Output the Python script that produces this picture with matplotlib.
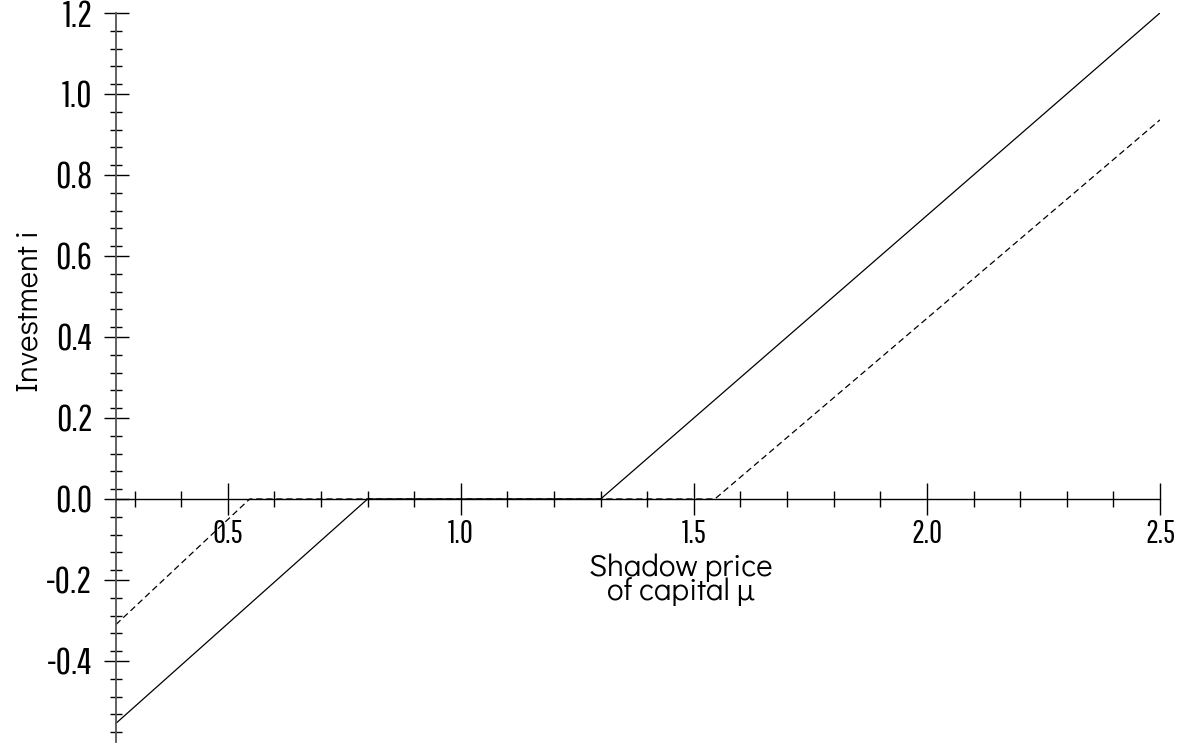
import matplotlib.pyplot as plt
import numpy as np
from matplotlib.ticker import FixedLocator, MultipleLocator

# investment vs shadow price of capital
mu_solid = [0.26, 0.80, 1.30, 2.50]
inv_solid = [-0.554, 0.0, 0.0, 1.20]
mu_dashed = [0.26, 0.547, 1.545, 2.50]
inv_dashed = [-0.31, 0.0, 0.0, 0.936]

xticks = [0.5, 1.0, 1.5, 2.0, 2.5]
yticks = [-0.4, -0.2, 0.0, 0.2, 0.4, 0.6, 0.8, 1.0, 1.2]

tick_font = ['Pathway Gothic One', 'Antonio', 'Liberation Sans Narrow', 'DejaVu Sans']
label_font = ['Didact Gothic', 'Questrial', 'DejaVu Sans']

fig = plt.figure(figsize=(11.88, 7.46), dpi=100)
ax = fig.add_axes([0.0976, 0.0054, 0.8788, 0.9772])

ax.plot(mu_solid, inv_solid, color='black', lw=0.9)
ax.plot(mu_dashed, inv_dashed, color='black', lw=0.9, dashes=(5, 3))

ax.set_xlim(0.26, 2.5)
ax.set_ylim(-0.6, 1.2)

ax.spines['top'].set_visible(False)
ax.spines['right'].set_visible(False)
ax.spines['bottom'].set_position(('data', 0))
ax.spines['left'].set_color('#555555')
ax.spines['left'].set_linewidth(1.3)
ax.spines['bottom'].set_linewidth(1.0)

ax.xaxis.set_major_locator(FixedLocator(xticks))
ax.xaxis.set_minor_locator(MultipleLocator(0.1))
ax.yaxis.set_major_locator(FixedLocator(yticks))
# minor ticks in the original sit a bit off the even grid
yminor = [m - 0.044 * k for m in yticks for k in range(1, 5)]
yminor += [0.2 - 0.044 * k for k in range(2, 5)]
ax.yaxis.set_minor_locator(FixedLocator(sorted(set(np.round(yminor, 4)))))

ax.set_xticklabels(['%.1f' % v for v in xticks], family=tick_font, fontsize=23)
ax.set_yticklabels(['%.1f' % v for v in yticks], family=tick_font, fontsize=27)

ax.tick_params(axis='x', which='major', direction='inout', length=23, width=1.0, pad=3)
ax.tick_params(axis='x', which='minor', direction='inout', length=11, width=1.0)
ax.tick_params(axis='y', which='major', direction='inout', length=18, width=1.0, pad=8)
ax.tick_params(axis='y', which='minor', direction='inout', length=8, width=1.0)

ax.set_xlabel('Shadow price\nof capital \u03bc', fontsize=22.5, linespacing=0.78, family=label_font)
ax.xaxis.set_label_coords(0.541, 0.258)
ax.set_ylabel('Investment i', fontsize=22.5, family=label_font)
ax.yaxis.set_label_coords(-0.069, 0.591)

ax.patch.set_alpha(0)
fig.savefig('out.png', dpi=100)
